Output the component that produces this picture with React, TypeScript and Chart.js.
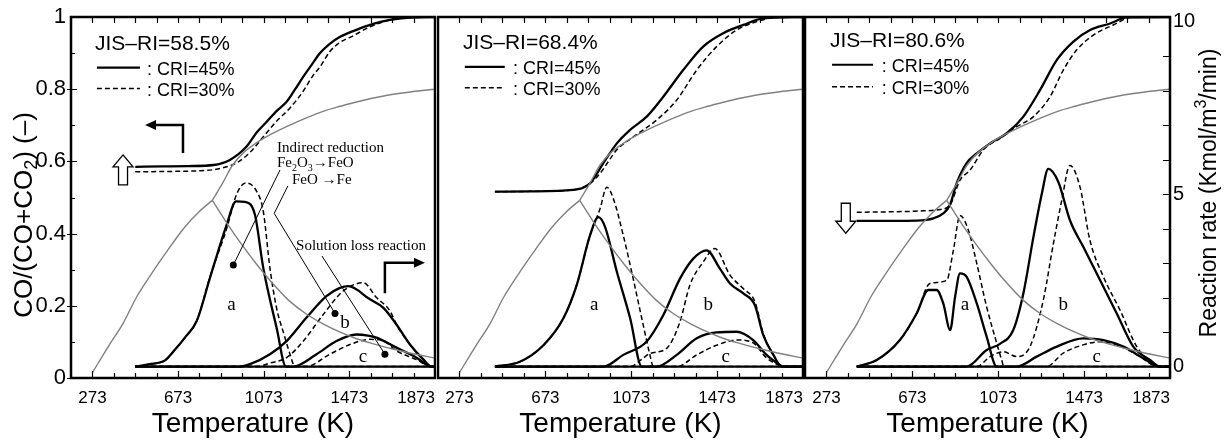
import React, { useEffect, useRef } from 'react';
import { Chart, registerables } from 'chart.js';

Chart.register(...registerables);

type Pt = [number, number];
type Seg = [string, 'n' | 'sub' | 'sup'];

const SANS = '"Liberation Sans", Arial, Helvetica, sans-serif';
const SERIF = '"Liberation Serif", "Times New Roman", Times, serif';

// ---- axes ----
const T_MIN = 173;
const T_MAX = 1873;
const tempTicks = [173, 273, 673, 1073, 1473, 1873];
const coTicks = [0, 0.2, 0.4, 0.6, 0.8, 1];
const rateTicks = [0, 5, 10];
const RATE_MIN = -0.33;
const RATE_MAX = 10.13;

// ---- gray reference curves (left axis) ----
const grayUp: Pt[] = [[273, 0.015], [350, 0.09], [415, 0.15], [480, 0.225], [550, 0.29], [620, 0.35], [700, 0.415], [770, 0.46], [833, 0.492]];
const grayRise: Pt[] = [[833, 0.492], [881, 0.54], [928, 0.59], [980, 0.625], [1036, 0.65], [1110, 0.676], [1192, 0.7], [1270, 0.72], [1347, 0.738], [1425, 0.752], [1502, 0.764], [1580, 0.775], [1657, 0.784], [1765, 0.793], [1873, 0.8]];
const grayDown: Pt[] = [[833, 0.492], [900, 0.43], [970, 0.37], [1040, 0.315], [1110, 0.265], [1190, 0.215], [1270, 0.178], [1350, 0.15], [1430, 0.127], [1510, 0.108], [1590, 0.094], [1670, 0.081], [1750, 0.07], [1873, 0.055]];

// ---- panel 1 : JIS-RI = 58.5 % ----
const p1CoSolid: Pt[] = [[473, 0.585], [600, 0.586], [720, 0.587], [838, 0.59], [915, 0.604], [993, 0.641], [1040, 0.68], [1087, 0.71], [1134, 0.74], [1180, 0.765], [1220, 0.8], [1258, 0.835], [1300, 0.87], [1336, 0.9], [1380, 0.925], [1430, 0.945], [1500, 0.963], [1580, 0.98], [1663, 0.992], [1772, 0.999], [1873, 1.0]];
const p1CoDash: Pt[] = [[473, 0.571], [600, 0.572], [775, 0.574], [838, 0.577], [900, 0.585], [947, 0.596], [1009, 0.625], [1071, 0.668], [1134, 0.712], [1196, 0.748], [1258, 0.795], [1300, 0.835], [1336, 0.862], [1383, 0.905], [1430, 0.93], [1491, 0.948], [1570, 0.973], [1694, 0.995], [1873, 1.0]];
const p1aSolid: Pt[] = [[473, 0], [540, 0.07], [612, 0.18], [660, 0.5], [705, 0.84], [760, 1.32], [822, 2.57], [900, 4.11], [944, 4.79], [985, 4.77], [1032, 4.4], [1071, 2.86], [1133, 1.13], [1177, 0], [1873, 0]];
const p1aDash: Pt[] = [[473, 0], [540, 0.07], [612, 0.18], [660, 0.5], [705, 0.84], [760, 1.32], [822, 2.6], [900, 4.0], [947, 5.0], [990, 5.32], [1040, 5.08], [1071, 4.5], [1102, 2.86], [1133, 1.7], [1168, 0.93], [1196, 0.36], [1219, 0], [1873, 0]];
const p1bSolid: Pt[] = [[473, 0], [960, 0], [1009, 0.07], [1102, 0.36], [1180, 0.74], [1273, 1.42], [1366, 2.04], [1429, 2.28], [1468, 2.33], [1569, 1.95], [1631, 1.71], [1693, 1.22], [1756, 0.64], [1818, 0.21], [1857, 0], [1873, 0]];
const p1bDash: Pt[] = [[473, 0], [1040, 0], [1100, 0.1], [1180, 0.26], [1258, 0.74], [1351, 1.51], [1444, 2.19], [1538, 2.43], [1600, 2.0], [1663, 1.61], [1693, 1.22], [1756, 0.64], [1818, 0.21], [1857, 0], [1873, 0]];
const p1cSolid: Pt[] = [[473, 0], [1210, 0], [1320, 0.36], [1413, 0.74], [1506, 0.93], [1560, 0.9], [1600, 0.84], [1693, 0.55], [1787, 0.26], [1857, 0], [1873, 0]];
const p1cDash: Pt[] = [[473, 0], [1270, 0], [1382, 0.36], [1476, 0.64], [1569, 0.79], [1631, 0.75], [1693, 0.46], [1787, 0.2], [1857, 0], [1873, 0]];

// ---- panel 2 : JIS-RI = 68.4 % ----
const p2CoSolid: Pt[] = [[438, 0.516], [600, 0.517], [803, 0.521], [881, 0.539], [943, 0.595], [1006, 0.65], [1067, 0.687], [1145, 0.724], [1222, 0.779], [1315, 0.853], [1408, 0.918], [1501, 0.955], [1595, 0.978], [1688, 0.996], [1873, 1.0]];
const p2CoDash: Pt[] = [[438, 0.516], [600, 0.517], [803, 0.521], [881, 0.539], [928, 0.567], [1006, 0.632], [1083, 0.668], [1192, 0.715], [1285, 0.77], [1378, 0.853], [1471, 0.918], [1564, 0.964], [1657, 0.987], [1760, 1.0], [1873, 1.0]];
const p2aSolid: Pt[] = [[438, 0], [554, 0.14], [664, 0.62], [757, 1.4], [819, 2.36], [881, 3.8], [920, 4.33], [951, 4.05], [1006, 2.75], [1068, 1.4], [1122, 0], [1873, 0]];
const p2aDash: Pt[] = [[438, 0], [554, 0.14], [664, 0.62], [757, 1.4], [819, 2.36], [881, 3.8], [928, 4.58], [959, 5.2], [990, 4.86], [1036, 3.8], [1082, 2.55], [1129, 1.2], [1160, 0.34], [1176, 0], [1873, 0]];
const p2bSolid: Pt[] = [[438, 0], [943, 0], [1036, 0.34], [1144, 0.72], [1222, 1.49], [1300, 2.55], [1362, 3.13], [1424, 3.37], [1486, 2.84], [1533, 2.41], [1595, 2.12], [1649, 1.78], [1688, 0.91], [1735, 0.34], [1774, 0], [1873, 0]];
const p2bDash: Pt[] = [[438, 0], [1067, 0], [1120, 0.2], [1160, 0.38], [1238, 0.53], [1300, 1.3], [1346, 2.36], [1408, 3.03], [1462, 3.42], [1533, 2.65], [1595, 2.26], [1649, 1.88], [1688, 0.95], [1735, 0.34], [1774, 0], [1873, 0]];
const p2cSolid: Pt[] = [[438, 0], [1192, 0], [1285, 0.34], [1378, 0.82], [1471, 0.99], [1564, 1.01], [1641, 0.77], [1703, 0.34], [1765, 0.05], [1780, 0], [1873, 0]];
const p2cDash: Pt[] = [[438, 0], [1285, 0], [1378, 0.34], [1471, 0.62], [1564, 0.77], [1641, 0.69], [1703, 0.25], [1765, 0.03], [1780, 0], [1873, 0]];

// ---- panel 3 : JIS-RI = 80.6 % ----
const p3CoSolid: Pt[] = [[414, 0.435], [693, 0.436], [771, 0.442], [817, 0.456], [848, 0.479], [879, 0.539], [926, 0.595], [973, 0.622], [1035, 0.65], [1113, 0.678], [1190, 0.724], [1268, 0.798], [1346, 0.881], [1423, 0.932], [1501, 0.964], [1594, 0.982], [1671, 0.999], [1873, 1.0]];
const p3CoDash: Pt[] = [[414, 0.459], [724, 0.463], [802, 0.467], [848, 0.479], [895, 0.548], [942, 0.576], [1004, 0.632], [1081, 0.664], [1159, 0.696], [1237, 0.724], [1314, 0.779], [1376, 0.853], [1439, 0.909], [1516, 0.95], [1609, 0.978], [1700, 1.0], [1873, 1.0]];
const p3aSolid: Pt[] = [[414, 0], [507, 0.19], [615, 0.77], [693, 1.54], [747, 2.22], [786, 2.22], [817, 1.83], [849, 1.06], [872, 2.02], [895, 2.7], [926, 2.6], [973, 1.83], [1019, 0.87], [1066, 0], [1873, 0]];
const p3aDash: Pt[] = [[414, 0], [507, 0.19], [615, 0.77], [693, 1.54], [755, 2.41], [833, 2.5], [864, 3.37], [895, 4.38], [934, 3.95], [973, 2.99], [1019, 1.73], [1066, 0.68], [1089, 0.19], [1100, 0], [1873, 0]];
const p3bSolid: Pt[] = [[414, 0], [926, 0], [1019, 0.48], [1081, 0.66], [1143, 1.06], [1190, 2.12], [1237, 3.76], [1276, 5.01], [1306, 5.73], [1353, 5.35], [1407, 4.24], [1469, 3.47], [1547, 2.51], [1625, 1.54], [1702, 0.58], [1780, 0.19], [1827, 0], [1873, 0]];
const p3bDash: Pt[] = [[414, 0], [973, 0], [1035, 0.29], [1097, 0.43], [1159, 0.29], [1221, 0.58], [1283, 1.93], [1330, 3.57], [1369, 4.82], [1407, 5.83], [1454, 5.2], [1500, 3.66], [1563, 2.6], [1640, 1.64], [1718, 0.58], [1800, 0.05], [1830, 0], [1873, 0]];
const p3cSolid: Pt[] = [[414, 0], [1159, 0], [1252, 0.29], [1346, 0.58], [1469, 0.82], [1563, 0.77], [1656, 0.58], [1749, 0.24], [1827, 0], [1873, 0]];
const p3cDash: Pt[] = [[414, 0], [1297, 0], [1376, 0.39], [1469, 0.63], [1547, 0.72], [1625, 0.63], [1718, 0.35], [1820, 0], [1873, 0]];

// ---- text ----
const xTitle = 'Temperature (K)';
const leftTitle: Seg[] = [['CO/(CO+CO', 'n'], ['2', 'sub'], [') (\u2013)', 'n']];
const rightTitle: Seg[] = [['Reaction rate (Kmol/m', 'n'], ['3', 'sup'], ['/min)', 'n']];
const legendSolid = ': CRI=45%';
const legendDash = ': CRI=30%';

type TextNote = { segs: Seg[]; t: number; v: number; size: number; family: string; align: 'left' | 'center' };
type Panel = {
  left: number; width: number; padL: number; padR: number;
  showLeft: boolean; showRight: boolean;
  jis: string; jisAt: Pt; legT: [number, number, number]; legV: [number, number];
  co: [Pt[], Pt[]]; a: [Pt[], Pt[]]; b: [Pt[], Pt[]]; c: [Pt[], Pt[]];
  letters: [string, number, number][];
  notes: TextNote[];
  leaders: Pt[][];
  elbows: Pt[][];
  hollow: { t: number; v: number; dir: 'up' | 'down' }[];
};

const PANELS: Panel[] = [
  {
    left: 0, width: 437, padL: 0, padR: 2, showLeft: true, showRight: false,
    jis: 'JIS\u2013RI=58.5%', jisAt: [285, 0.928], legT: [294, 495, 528], legV: [0.857, 0.799],
    co: [p1CoSolid, p1CoDash], a: [p1aSolid, p1aDash], b: [p1bSolid, p1bDash], c: [p1cSolid, p1cDash],
    letters: [['a', 923, 0.201], ['b', 1453, 0.153], ['c', 1537, 0.058]],
    notes: [
      { segs: [['Indirect reduction', 'n']], t: 1135, v: 0.640, size: 15, family: SERIF, align: 'left' },
      { segs: [['Fe', 'n'], ['2', 'sub'], ['O', 'n'], ['3', 'sub'], ['\u2192FeO', 'n']], t: 1135, v: 0.598, size: 15, family: SERIF, align: 'left' },
      { segs: [['FeO \u2192Fe', 'n']], t: 1205, v: 0.551, size: 15, family: SERIF, align: 'left' },
      { segs: [['Solution loss reaction', 'n']], t: 1224, v: 0.369, size: 15, family: SERIF, align: 'left' },
    ],
    leaders: [
      [[1149, 0.576], [931, 0.313]],
      [[1186, 0.532], [1122, 0.456], [1406, 0.179]],
      [[1345, 0.338], [1639, 0.066]],
    ],
    elbows: [
      [[696, 0.623], [696, 0.701], [519, 0.701]],
      [[1639, 0.235], [1639, 0.319], [1826, 0.319]],
    ],
    hollow: [{ t: 416, v: 0.618, dir: 'up' }],
  },
  {
    left: 437, width: 368, padL: 1, padR: 2, showLeft: false, showRight: false,
    jis: 'JIS\u2013RI=68.4%', jisAt: [289, 0.933], legT: [298, 484, 522], legV: [0.859, 0.801],
    co: [p2CoSolid, p2CoDash], a: [p2aSolid, p2aDash], b: [p2bSolid, p2bDash], c: [p2cSolid, p2cDash],
    letters: [['a', 901, 0.201], ['b', 1432, 0.201], ['c', 1513, 0.057]],
    notes: [], leaders: [], elbows: [], hollow: [],
  },
  {
    left: 804, width: 421, padL: 1, padR: 0, showLeft: false, showRight: true,
    jis: 'JIS\u2013RI=80.6%', jisAt: [289, 0.936], legT: [299, 490, 530], legV: [0.865, 0.804],
    co: [p3CoSolid, p3CoDash], a: [p3aSolid, p3aDash], b: [p3bSolid, p3bDash], c: [p3cSolid, p3cDash],
    letters: [['a', 918, 0.201], ['b', 1376, 0.201], ['c', 1532, 0.058]],
    notes: [], leaders: [], elbows: [],
    hollow: [{ t: 363, v: 0.401, dir: 'down' }],
  },
];

function drawRich(ctx: CanvasRenderingContext2D, segs: Seg[], x: number, yc: number, size: number, family: string, align: 'left' | 'center') {
  const small = Math.round(size * 0.68);
  const widths = segs.map(([t, k]) => {
    ctx.font = `${k === 'n' ? size : small}px ${family}`;
    return ctx.measureText(t).width;
  });
  const total = widths.reduce((s, w) => s + w, 0);
  let cx = align === 'center' ? x - total / 2 : x;
  const base = yc + size * 0.35;
  ctx.textAlign = 'left';
  ctx.textBaseline = 'alphabetic';
  segs.forEach(([t, k], i) => {
    ctx.font = `${k === 'n' ? size : small}px ${family}`;
    const dy = k === 'sub' ? size * 0.22 : k === 'sup' ? -size * 0.42 : 0;
    ctx.fillText(t, cx, base + dy);
    cx += widths[i];
  });
}

function toData(pts: Pt[]) {
  return pts.map(([x, y]) => ({ x, y }));
}

function makePlugin(p: Panel) {
  return {
    id: 'panelDecor',
    afterDatasetsDraw(chart: any) {
      const { ctx, chartArea: a, scales } = chart;
      const X = (t: number) => scales.x.getPixelForValue(t);
      const Y = (v: number) => scales.y.getPixelForValue(v);
      const YR = (r: number) => scales.yR.getPixelForValue(r);
      ctx.save();
      ctx.fillStyle = '#000';
      ctx.strokeStyle = '#000';

      // frame
      ctx.lineWidth = 2.5;
      ctx.setLineDash([]);
      ctx.strokeRect(a.left, a.top, a.right - a.left, a.bottom - a.top);

      // inward ticks
      ctx.lineWidth = 1.2;
      ctx.beginPath();
      for (let t = 273; t <= T_MAX; t += 100) {
        const x = Math.round(X(t)) + 0.5;
        const len = (t - 273) % 400 === 0 ? 7 : 5;
        ctx.moveTo(x, a.top); ctx.lineTo(x, a.top + 6);
        ctx.moveTo(x, a.bottom); ctx.lineTo(x, a.bottom - len);
      }
      if (p.showLeft) {
        for (let k = 1; k < 10; k++) {
          const v = k / 10;
          const y = Math.round(Y(v)) + 0.5;
          if (k % 2 === 0) { ctx.moveTo(a.left - 4, y); ctx.lineTo(a.left + 6, y); }
          else { ctx.moveTo(a.left, y); ctx.lineTo(a.left + 4, y); }
        }
        const y0 = Math.round(Y(0)) + 0.5;
        ctx.moveTo(a.left - 4, y0); ctx.lineTo(a.left, y0);
      }
      if (p.showRight) {
        for (let r = 1; r <= 9; r++) {
          const y = Math.round(YR(r)) + 0.5;
          ctx.moveTo(a.right, y); ctx.lineTo(a.right - 7, y);
        }
      }
      ctx.stroke();

      // JIS title and legend
      drawRich(ctx, [[p.jis, 'n']], X(p.jisAt[0]), Y(p.jisAt[1]), 21, SANS, 'left');
      ctx.lineWidth = 2.2;
      ctx.beginPath();
      ctx.moveTo(X(p.legT[0]), Y(p.legV[0]) - 1); ctx.lineTo(X(p.legT[1]), Y(p.legV[0]) - 1);
      ctx.stroke();
      ctx.lineWidth = 1.5;
      ctx.setLineDash([5, 3]);
      ctx.beginPath();
      ctx.moveTo(X(p.legT[0]), Y(p.legV[1]) - 1); ctx.lineTo(X(p.legT[1]), Y(p.legV[1]) - 1);
      ctx.stroke();
      ctx.setLineDash([]);
      drawRich(ctx, [[legendSolid, 'n']], X(p.legT[2]), Y(p.legV[0]), 18, SANS, 'left');
      drawRich(ctx, [[legendDash, 'n']], X(p.legT[2]), Y(p.legV[1]), 18, SANS, 'left');

      // letters a, b, c
      ctx.font = `19px ${SERIF}`;
      ctx.textAlign = 'center';
      ctx.textBaseline = 'middle';
      p.letters.forEach(([s, t, v]) => ctx.fillText(s, X(t), Y(v)));

      // notes
      p.notes.forEach((n) => drawRich(ctx, n.segs, X(n.t), Y(n.v), n.size, n.family, n.align));

      // leader lines with dots
      ctx.lineWidth = 1;
      p.leaders.forEach((pts) => {
        ctx.beginPath();
        pts.forEach(([t, v], i) => (i ? ctx.lineTo(X(t), Y(v)) : ctx.moveTo(X(t), Y(v))));
        ctx.stroke();
        const [te, ve] = pts[pts.length - 1];
        ctx.beginPath();
        ctx.arc(X(te), Y(ve), 3.5, 0, Math.PI * 2);
        ctx.fill();
      });

      // elbow arrows
      p.elbows.forEach((pts) => {
        const px = pts.map(([t, v]) => [X(t), Y(v)]);
        const [x1, y1] = px[px.length - 2];
        const [x2, y2] = px[px.length - 1];
        const ang = Math.atan2(y2 - y1, x2 - x1);
        const hl = 11, hw = 5;
        const bx = x2 - hl * Math.cos(ang), by = y2 - hl * Math.sin(ang);
        ctx.lineWidth = 2.5;
        ctx.beginPath();
        px.forEach(([x, y], i) => {
          if (i === px.length - 1) ctx.lineTo(bx, by);
          else if (i) ctx.lineTo(x, y);
          else ctx.moveTo(x, y);
        });
        ctx.stroke();
        ctx.beginPath();
        ctx.moveTo(x2, y2);
        ctx.lineTo(bx + hw * Math.sin(ang), by - hw * Math.cos(ang));
        ctx.lineTo(bx - hw * Math.sin(ang), by + hw * Math.cos(ang));
        ctx.closePath();
        ctx.fill();
      });

      // hollow block arrows
      p.hollow.forEach((h) => {
        const x = X(h.t), y = Y(h.v);
        const s = h.dir === 'up' ? 1 : -1;
        ctx.beginPath();
        ctx.moveTo(x, y);
        ctx.lineTo(x + 10, y + s * 12);
        ctx.lineTo(x + 4.5, y + s * 12);
        ctx.lineTo(x + 4.5, y + s * 30);
        ctx.lineTo(x - 4.5, y + s * 30);
        ctx.lineTo(x - 4.5, y + s * 12);
        ctx.lineTo(x - 10, y + s * 12);
        ctx.closePath();
        ctx.fillStyle = '#fff';
        ctx.fill();
        ctx.lineWidth = 1.3;
        ctx.stroke();
        ctx.fillStyle = '#000';
      });

      // y-axis titles
      if (p.showLeft) {
        ctx.save();
        ctx.translate(a.left - 48.5, a.top + 198);
        ctx.rotate(-Math.PI / 2);
        drawRich(ctx, leftTitle, 0, 0, 26, SANS, 'center');
        ctx.restore();
      }
      if (p.showRight) {
        ctx.save();
        ctx.translate(a.right + 38, a.top + 176);
        ctx.rotate(-Math.PI / 2);
        drawRich(ctx, rightTitle, 0, 0, 23, SANS, 'center');
        ctx.restore();
      }
      ctx.restore();
    },
  };
}

function PanelChart({ p }: { p: Panel }) {
  const ref = useRef<HTMLCanvasElement>(null);
  useEffect(() => {
    const solid = { borderColor: '#000', borderWidth: 2.3, borderDash: [] as number[] };
    const dash = { borderColor: '#000', borderWidth: 1.5, borderDash: [5, 3] };
    const gray = { borderColor: '#808080', borderWidth: 1.4, borderDash: [] as number[] };
    const mk = (pts: Pt[], style: any, axis: string) => ({
      data: toData(pts), yAxisID: axis, ...style,
      pointRadius: 0, fill: false, cubicInterpolationMode: 'monotone' as const,
    });
    const datasets = [
      mk(grayUp, gray, 'y'), mk(grayRise, gray, 'y'), mk(grayDown, gray, 'y'),
      mk(p.co[0], solid, 'y'), mk(p.co[1], dash, 'y'),
      mk(p.a[0], solid, 'yR'), mk(p.a[1], dash, 'yR'),
      mk(p.b[0], solid, 'yR'), mk(p.b[1], dash, 'yR'),
      mk(p.c[0], solid, 'yR'), mk(p.c[1], dash, 'yR'),
    ];
    const chart = new Chart(ref.current as HTMLCanvasElement, {
      type: 'line',
      data: { datasets },
      options: {
        responsive: false,
        maintainAspectRatio: false,
        animation: false,
        devicePixelRatio: 1,
        layout: { autoPadding: false, padding: { left: p.padL, right: p.padR, top: 17, bottom: 0 } },
        plugins: { legend: { display: false }, tooltip: { enabled: false } },
        scales: {
          x: {
            type: 'linear', min: T_MIN, max: T_MAX, position: 'bottom',
            afterBuildTicks: (s: any) => { s.ticks = tempTicks.map((value) => ({ value })); },
            afterFit: (s: any) => { s.height = 66; s.paddingLeft = 0; s.paddingRight = 0; },
            grid: { display: false, drawTicks: false },
            border: { display: false },
            ticks: {
              autoSkip: false, maxRotation: 0, align: 'inner', padding: 10, color: '#000',
              font: { family: SANS, size: 17 },
              callback: (v: any) => (v === T_MIN ? '' : String(v)),
            },
            title: { display: true, text: xTitle, color: '#000', font: { family: SANS, size: 28 }, padding: { top: 0, bottom: 3 } },
          },
          y: {
            type: 'linear', min: 0, max: 1, position: 'left', display: p.showLeft,
            afterBuildTicks: (s: any) => { s.ticks = coTicks.map((value) => ({ value })); },
            afterFit: (s: any) => { if (p.showLeft) { s.width = 71; } s.paddingTop = 0; s.paddingBottom = 0; },
            grid: { display: false, drawTicks: false },
            border: { display: false },
            ticks: { padding: 5, color: '#000', font: { family: SANS, size: 22 }, callback: (v: any) => String(v) },
          },
          yR: {
            type: 'linear', min: RATE_MIN, max: RATE_MAX, position: 'right', display: p.showRight,
            afterBuildTicks: (s: any) => { s.ticks = rateTicks.map((value) => ({ value })); },
            afterFit: (s: any) => { if (p.showRight) { s.width = 55; } s.paddingTop = 0; s.paddingBottom = 0; },
            grid: { display: false, drawTicks: false },
            border: { display: false },
            ticks: { padding: 3, color: '#000', font: { family: SANS, size: 20 }, callback: (v: any) => String(v) },
          },
        },
      } as any,
      plugins: [makePlugin(p)],
    });
    return () => chart.destroy();
  }, [p]);
  return (
    <canvas
      ref={ref}
      width={p.width}
      height={444}
      style={{ position: 'absolute', left: p.left, top: 0, width: p.width, height: 444 }}
    />
  );
}

export default function App() {
  return (
    <div style={{ position: 'absolute', left: 0, top: 0, width: 1225, height: 444, background: '#fff', overflow: 'hidden' }}>
      {PANELS.map((p, i) => (
        <PanelChart key={i} p={p} />
      ))}
    </div>
  );
}
